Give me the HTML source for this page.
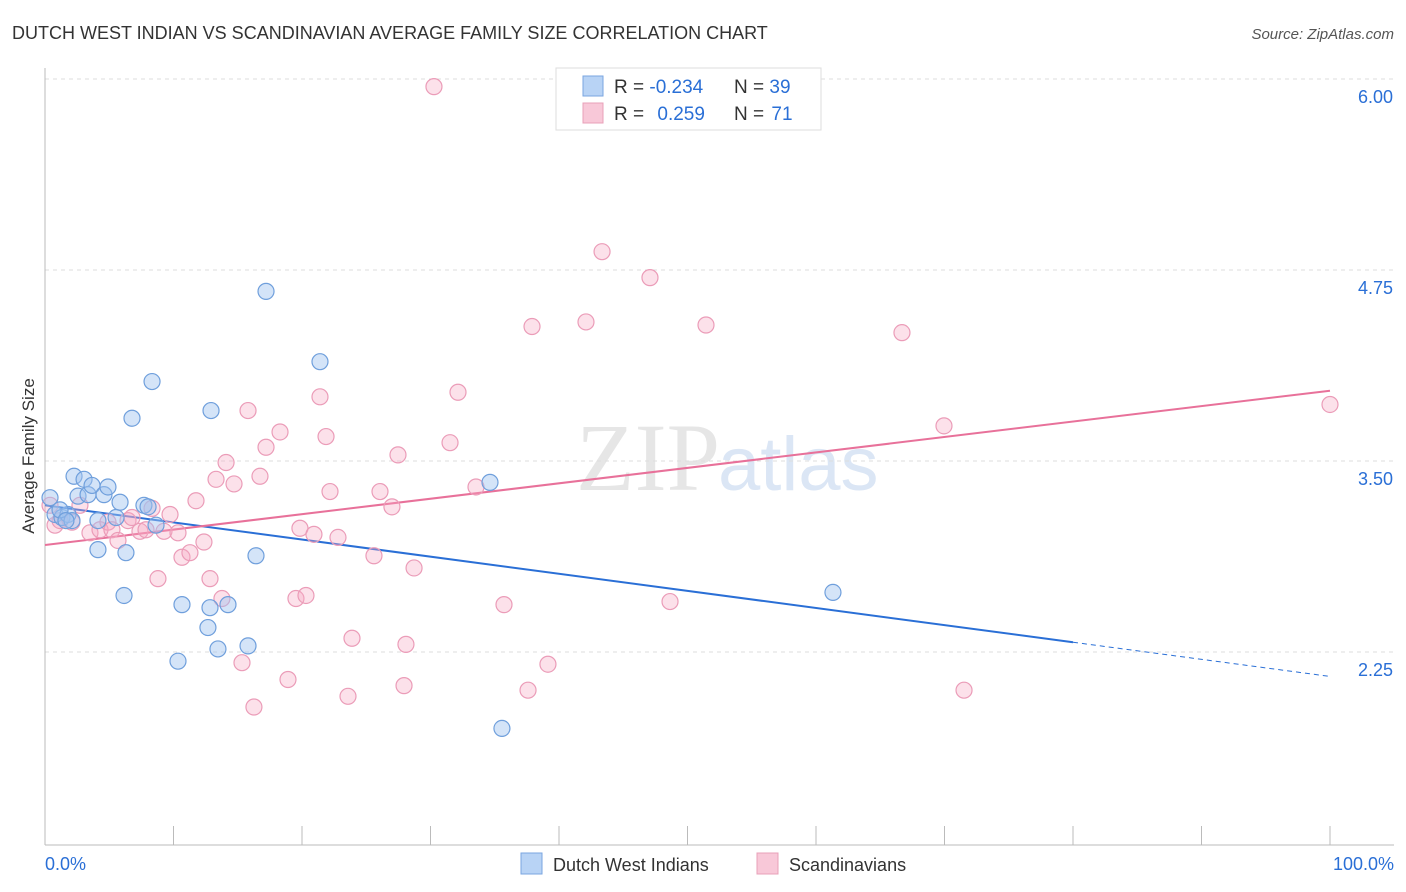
<!DOCTYPE html>
<html><head><meta charset="utf-8">
<style>
body{margin:0;background:#fff;font-family:"Liberation Sans",sans-serif;}
svg{display:block}
</style></head>
<body>
<svg id="chart" width="1406" height="892" viewBox="0 0 1406 892">
<text x="12" y="39" font-size="18" fill="#333">DUTCH WEST INDIAN VS SCANDINAVIAN AVERAGE FAMILY SIZE CORRELATION CHART</text>
<text x="1394" y="39" font-size="15" fill="#555" font-style="italic" text-anchor="end">Source: ZipAtlas.com</text>
<text x="720" y="490" font-size="96" fill="#e6e6e6" text-anchor="end" font-family="Liberation Serif,serif">ZIP</text>
<text x="718" y="490" font-size="76" fill="#dbe6f5">atlas</text>
<g id="grid"></g>
<g id="axes"></g>
<text transform="translate(34,456) rotate(-90)" font-size="17" fill="#333" text-anchor="middle">Average Family Size</text>
<g id="lines"></g>
<g id="points"></g>
<g>
<rect x="556" y="68" width="265" height="62" fill="#fff" stroke="#ddd"/>
<rect x="583" y="76" width="20" height="20" fill="#b8d3f5" stroke="#7aa6e0"/>
<text x="614" y="93" font-size="19" fill="#333">R = <tspan fill="#2a6fd6">-0.234</tspan></text>
<text x="734" y="93" font-size="19" fill="#333">N = <tspan fill="#2a6fd6">39</tspan></text>
<rect x="583" y="103" width="20" height="20" fill="#f8c8d8" stroke="#e8a0b8"/>
<text x="614" y="120" font-size="19" fill="#333">R = <tspan fill="#2a6fd6" dx="8">0.259</tspan></text>
<text x="734" y="120" font-size="19" fill="#333">N = <tspan fill="#2a6fd6" dx="2">71</tspan></text>
</g>
<g>
<rect x="521" y="853" width="21" height="21" fill="#b8d3f5" stroke="#7aa6e0"/>
<text x="553" y="871" font-size="18" fill="#333">Dutch West Indians</text>
<rect x="757" y="853" width="21" height="21" fill="#f8c8d8" stroke="#e8a0b8"/>
<text x="789" y="871" font-size="18" fill="#333">Scandinavians</text>
</g>
</svg>
<script>
const yTicks=[6.00,4.75,3.50,2.25];
const yTickLabels=["6.00","4.75","3.50","2.25"];
const xTickLabels=["0.0%","100.0%"];
const blueX=[0.39,0.78,1.32,1.79,2.10,2.26,2.57,3.04,3.35,3.66,4.12,4.12,4.59,4.90,5.53,5.84,6.15,6.30,6.77,7.70,8.02,8.33,8.64,10.35,10.66,12.68,12.84,12.92,13.46,14.24,15.80,16.42,17.20,21.40,34.63,35.56,61.32,1.17,1.63];
const blueY=[3.26,3.15,3.13,3.15,3.11,3.40,3.27,3.38,3.28,3.34,3.11,2.92,3.28,3.33,3.13,3.23,2.62,2.90,3.78,3.21,3.20,4.02,3.08,2.19,2.56,2.41,2.54,3.83,2.27,2.56,2.29,2.88,4.61,4.15,3.36,1.75,2.64,3.18,3.11];
const pinkX=[0.39,0.78,1.17,2.10,2.72,3.50,4.28,4.90,5.21,5.68,6.46,6.77,7.39,7.86,8.33,8.79,9.26,9.73,10.35,10.66,11.28,11.75,12.37,12.84,13.31,13.77,14.09,14.71,15.33,15.80,16.26,16.73,17.20,18.29,18.91,19.53,19.84,20.31,20.93,21.40,21.87,22.18,22.80,23.58,23.89,25.60,26.07,27.00,27.47,27.94,28.09,28.72,30.27,31.52,32.14,33.54,35.72,37.59,37.90,39.14,42.10,43.35,47.08,48.64,51.44,66.69,69.96,71.52,100];
const pinkY=[3.21,3.08,3.11,3.10,3.21,3.03,3.05,3.10,3.05,2.98,3.11,3.13,3.04,3.05,3.19,2.73,3.04,3.15,3.03,2.87,2.90,3.24,2.97,2.73,3.38,2.60,3.49,3.35,2.18,3.83,1.89,3.40,3.59,3.69,2.07,2.60,3.06,2.62,3.02,3.92,3.66,3.30,3.00,1.96,2.34,2.88,3.30,3.20,3.54,2.03,2.30,2.80,5.95,3.62,3.95,3.33,2.56,2.00,4.38,2.17,4.41,4.87,4.70,2.58,4.39,4.34,3.73,2.00,3.87];
const blueTrend=[3.21,2.09];
const pinkTrend=[2.95,3.96];
const NS="http://www.w3.org/2000/svg";
const X=v=>45+v*12.85;
const Y=v=>79+(6-v)*152.8;
function mk(tag,attrs,parent){const e=document.createElementNS(NS,tag);for(const k in attrs)e.setAttribute(k,attrs[k]);parent.appendChild(e);return e;}
const grid=document.getElementById('grid'),axes=document.getElementById('axes'),lines=document.getElementById('lines'),pts=document.getElementById('points');
yTicks.forEach((t,i)=>{
 const l=mk('line',{x1:45,x2:1394,y1:Y(t),y2:Y(t),stroke:'#ddd','stroke-dasharray':'4,4'},grid);
 
 
 const tx=mk('text',{x:1393,y:Y(t)+24,'font-size':18,fill:'#2a6fd6','text-anchor':'end'},axes);
 tx.textContent=yTickLabels[i];
 
 
});
const ax=mk('line',{x1:45,x2:1394,y1:845,y2:845,stroke:'#bbb'},axes);


const ay=mk('line',{x1:45,x2:45,y1:68,y2:845,stroke:'#bbb'},axes);


for(let i=0;i<=10;i++){
 const t=mk('line',{x1:X(i*10),x2:X(i*10),y1:826,y2:845,stroke:'#bbb'},axes);
 
 
}
[[0,'start',45],[100,'end',1394]].forEach((d,i)=>{
 const t=mk('text',{x:d[2],y:870,'font-size':18,fill:'#2a6fd6','text-anchor':d[1]},axes);
 t.textContent=xTickLabels[i];
 
 
});
const bAt=x=>blueTrend[0]+(blueTrend[1]-blueTrend[0])*x/100;
const pAt=x=>pinkTrend[0]+(pinkTrend[1]-pinkTrend[0])*x/100;
const bl=mk('line',{x1:X(0),y1:Y(bAt(0)),x2:X(80),y2:Y(bAt(80)),stroke:'#2a6fd6','stroke-width':2},lines);


const bd=mk('line',{x1:X(80),y1:Y(bAt(80)),x2:X(100),y2:Y(bAt(100)),stroke:'#2a6fd6','stroke-width':1,'stroke-dasharray':'5,4'},lines);


const pl=mk('line',{x1:X(0),y1:Y(pAt(0)),x2:X(100),y2:Y(pAt(100)),stroke:'#e8719a','stroke-width':2},lines);


pinkX.forEach((x,i)=>{
 const c=mk('circle',{cx:X(x),cy:Y(pinkY[i]),r:8,fill:'rgba(245,170,195,0.35)',stroke:'#eb9cb8','stroke-width':1.2},pts);
 
 
});
blueX.forEach((x,i)=>{
 const c=mk('circle',{cx:X(x),cy:Y(blueY[i]),r:8,fill:'rgba(160,195,240,0.45)',stroke:'#6f9fdc','stroke-width':1.2},pts);
 
 
});
</script>
</body></html>
